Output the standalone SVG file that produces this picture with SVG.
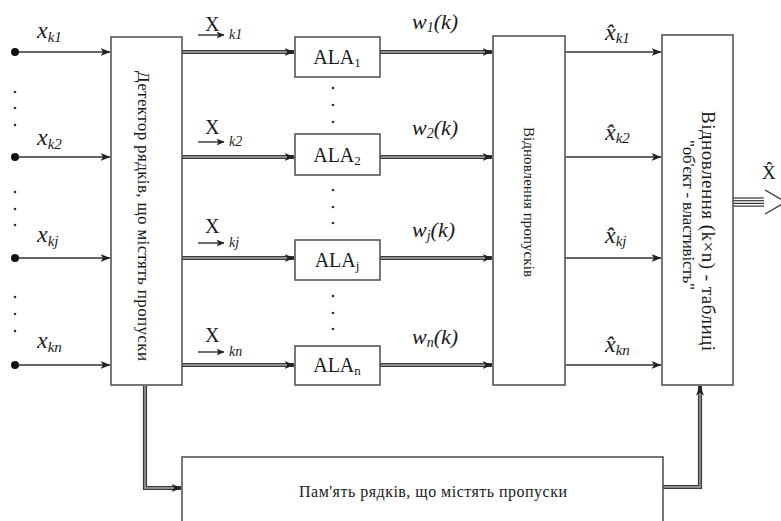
<svg xmlns="http://www.w3.org/2000/svg" width="781" height="521" viewBox="0 0 781 521">
  <style>
    .box { fill: #ffffff; stroke: #555555; stroke-width: 1.6; }
    .thin { fill: none; stroke: #333333; stroke-width: 1.4; }
    .thick { fill: none; stroke: #3a3a3a; stroke-width: 4.2; }
    .core { fill: none; stroke: #a8a8a8; stroke-width: 1.4; }
    .dot { fill: #111111; }
    .pt { fill: #333333; }
    .t { font-family: "Liberation Serif", "Times New Roman", serif; fill: #1a1a1a; }
    .it { font-style: italic; }
  </style>
  <defs>
    <marker id="ah" markerUnits="userSpaceOnUse" markerWidth="10" markerHeight="8" refX="9.5" refY="4" orient="auto">
      <path d="M0,0 L10,4 L0,8 L2.5,4 z" fill="#222222"/>
    </marker>
    <marker id="ahs" markerUnits="userSpaceOnUse" markerWidth="8" markerHeight="7" refX="7.5" refY="3.5" orient="auto">
      <path d="M0,0 L8,3.5 L0,7 L2,3.5 z" fill="#222222"/>
    </marker>
  </defs>

  <!-- connectors -->
  <g id="connectors">
    <!-- inputs to detector -->
    <path class="thin" d="M15,52 H110" marker-end="url(#ah)"/>
    <path class="thin" d="M15,157 H110" marker-end="url(#ah)"/>
    <path class="thin" d="M15,258 H110" marker-end="url(#ah)"/>
    <path class="thin" d="M15,365 H110" marker-end="url(#ah)"/>
    <circle class="dot" cx="15" cy="52" r="4"/>
    <circle class="dot" cx="15" cy="157" r="4"/>
    <circle class="dot" cx="15" cy="258" r="4"/>
    <circle class="dot" cx="15" cy="365" r="4"/>

    <!-- detector to ALA blocks -->
    <path class="thick" d="M182,52 H294" marker-end="url(#ah)"/>
    <path class="core" d="M183,52 H287"/>
    <path class="thick" d="M182,157 H294" marker-end="url(#ah)"/>
    <path class="core" d="M183,157 H287"/>
    <path class="thick" d="M182,258 H294" marker-end="url(#ah)"/>
    <path class="core" d="M183,258 H287"/>
    <path class="thick" d="M182,365 H294" marker-end="url(#ah)"/>
    <path class="core" d="M183,365 H287"/>

    <!-- ALA blocks to gap restoration -->
    <path class="thick" d="M380,52 H492" marker-end="url(#ah)"/>
    <path class="core" d="M381,52 H485"/>
    <path class="thick" d="M380,157 H492" marker-end="url(#ah)"/>
    <path class="core" d="M381,157 H485"/>
    <path class="thick" d="M380,258 H492" marker-end="url(#ah)"/>
    <path class="core" d="M381,258 H485"/>
    <path class="thick" d="M380,365 H492" marker-end="url(#ah)"/>
    <path class="core" d="M381,365 H485"/>

    <!-- restored values to table block -->
    <path class="thin" d="M565,52 H661" marker-end="url(#ah)"/>
    <path class="thin" d="M565,157 H661" marker-end="url(#ah)"/>
    <path class="thin" d="M565,258 H661" marker-end="url(#ah)"/>
    <path class="thin" d="M565,365 H661" stroke-width="1" marker-end="url(#ah)"/>

    <!-- detector to memory -->
    <path class="thick" d="M145,386 V488 H181" marker-end="url(#ah)"/>
    <path class="core" d="M145,386 V488 H174"/>

    <!-- memory to table block -->
    <path class="thick" d="M663,487 H700 V386" marker-end="url(#ah)"/>
    <path class="core" d="M664,487 H700 V393"/>

    <!-- output bus -->
    <g stroke="#333333" stroke-width="1.2">
      <line x1="733" y1="198" x2="764" y2="198"/>
      <line x1="733" y1="200.7" x2="764" y2="200.7"/>
      <line x1="733" y1="203.4" x2="764" y2="203.4"/>
      <line x1="733" y1="206.1" x2="764" y2="206.1"/>
    </g>
    <path d="M765,190 L786,202 L765,214" fill="none" stroke="#333333" stroke-width="1.3"/>
  </g>

  <!-- vertical dots between inputs -->
  <g id="input-ellipsis">
    <circle class="pt" cx="15" cy="92" r="1.3"/>
    <circle class="pt" cx="15" cy="108" r="1.3"/>
    <circle class="pt" cx="15" cy="125" r="1.3"/>
    <circle class="pt" cx="15" cy="192" r="1.3"/>
    <circle class="pt" cx="15" cy="209" r="1.3"/>
    <circle class="pt" cx="15" cy="225" r="1.3"/>
    <circle class="pt" cx="15" cy="297" r="1.3"/>
    <circle class="pt" cx="15" cy="314" r="1.3"/>
    <circle class="pt" cx="15" cy="331" r="1.3"/>
  </g>
  <g id="ala-ellipsis">
    <circle class="pt" cx="333" cy="88" r="1.3"/>
    <circle class="pt" cx="333" cy="105" r="1.3"/>
    <circle class="pt" cx="333" cy="122" r="1.3"/>
    <circle class="pt" cx="333" cy="190" r="1.3"/>
    <circle class="pt" cx="333" cy="207" r="1.3"/>
    <circle class="pt" cx="333" cy="223" r="1.3"/>
    <circle class="pt" cx="333" cy="296" r="1.3"/>
    <circle class="pt" cx="333" cy="313" r="1.3"/>
    <circle class="pt" cx="333" cy="329" r="1.3"/>
  </g>

  <!-- input labels -->
  <g id="input-labels" class="t it">
    <text x="37" y="38" font-size="24">x<tspan font-size="15" dy="4">k1</tspan></text>
    <text x="37" y="145" font-size="24">x<tspan font-size="15" dy="4">k2</tspan></text>
    <text x="37" y="242" font-size="24">x<tspan font-size="15" dy="4">kj</tspan></text>
    <text x="37" y="348" font-size="24">x<tspan font-size="15" dy="4">kn</tspan></text>
  </g>

  <!-- row vector labels -->
  <g id="row-labels">
    <text class="t" x="205" y="31" font-size="20">X</text>
    <path class="thin" d="M198,35 H224" marker-end="url(#ahs)"/>
    <text class="t it" x="229" y="39" font-size="14">k1</text>

    <text class="t" x="205" y="134" font-size="20">X</text>
    <path class="thin" d="M198,142 H224" marker-end="url(#ahs)"/>
    <text class="t it" x="229" y="146" font-size="14">k2</text>

    <text class="t" x="205" y="233" font-size="20">X</text>
    <path class="thin" d="M198,243 H224" marker-end="url(#ahs)"/>
    <text class="t it" x="229" y="247" font-size="14">kj</text>

    <text class="t" x="205" y="342" font-size="20">X</text>
    <path class="thin" d="M198,352 H224" marker-end="url(#ahs)"/>
    <text class="t it" x="229" y="356" font-size="14">kn</text>
  </g>

  <!-- weight labels -->
  <g id="weight-labels" class="t it">
    <text x="412" y="29" font-size="22">w<tspan font-size="14" dy="3">1</tspan><tspan dy="-3">(k)</tspan></text>
    <text x="412" y="135" font-size="22">w<tspan font-size="14" dy="3">2</tspan><tspan dy="-3">(k)</tspan></text>
    <text x="412" y="237" font-size="22">w<tspan font-size="14" dy="3">j</tspan><tspan dy="-3">(k)</tspan></text>
    <text x="412" y="344" font-size="22">w<tspan font-size="14" dy="3">n</tspan><tspan dy="-3">(k)</tspan></text>
  </g>

  <!-- restored value labels -->
  <g id="restored-labels" class="t it">
    <text x="605" y="40" font-size="24">x̂<tspan font-size="15" dy="3">k1</tspan></text>
    <text x="605" y="140" font-size="24">x̂<tspan font-size="15" dy="3">k2</tspan></text>
    <text x="605" y="243" font-size="24">x̂<tspan font-size="15" dy="3">kj</tspan></text>
    <text x="605" y="352" font-size="24">x̂<tspan font-size="15" dy="3">kn</tspan></text>
  </g>

  <!-- output label -->
  <text class="t" x="762" y="179" font-size="19">X̂</text>

  <!-- nodes -->
  <g id="detector">
    <rect class="box" x="111" y="37" width="71" height="348"/>
    <text class="t" transform="translate(138,216) rotate(90)" text-anchor="middle" font-size="17" textLength="290" lengthAdjust="spacing">Детектор  рядків, що містять пропуски</text>
  </g>

  <g id="ala1">
    <rect class="box" x="295" y="37" width="85" height="40"/>
    <text class="t" x="337" y="64" text-anchor="middle" font-size="20">ALA<tspan font-size="13" dy="3">1</tspan></text>
  </g>
  <g id="ala2">
    <rect class="box" x="295" y="134" width="85" height="41"/>
    <text class="t" x="337" y="162" text-anchor="middle" font-size="20">ALA<tspan font-size="13" dy="3">2</tspan></text>
  </g>
  <g id="alaj">
    <rect class="box" x="295" y="240" width="85" height="40"/>
    <text class="t" x="337" y="267" text-anchor="middle" font-size="20">ALA<tspan font-size="13" dy="3">j</tspan></text>
  </g>
  <g id="alan">
    <rect class="box" x="295" y="346" width="85" height="39"/>
    <text class="t" x="337" y="372" text-anchor="middle" font-size="20">ALA<tspan font-size="13" dy="3">n</tspan></text>
  </g>

  <g id="gap-restore">
    <rect class="box" x="493" y="36" width="72" height="349"/>
    <text class="t" transform="translate(524,202) rotate(90)" text-anchor="middle" font-size="15" textLength="150" lengthAdjust="spacing">Відновлення пропусків</text>
  </g>

  <g id="table-restore">
    <rect class="box" x="662" y="35" width="71" height="350"/>
    <text class="t" transform="translate(702,231) rotate(90)" text-anchor="middle" font-size="19" textLength="240" lengthAdjust="spacing">Відновлення (k×n) - таблиці</text>
    <text class="t" transform="translate(683,215) rotate(90)" text-anchor="middle" font-size="17" textLength="150" lengthAdjust="spacing">"об'єкт - властивість"</text>
  </g>

  <g id="memory">
    <rect class="box" x="182" y="457" width="481" height="70"/>
    <text class="t" x="433" y="497" text-anchor="middle" font-size="16" textLength="268" lengthAdjust="spacing">Пам'ять рядків, що містять пропуски</text>
  </g>
</svg>
